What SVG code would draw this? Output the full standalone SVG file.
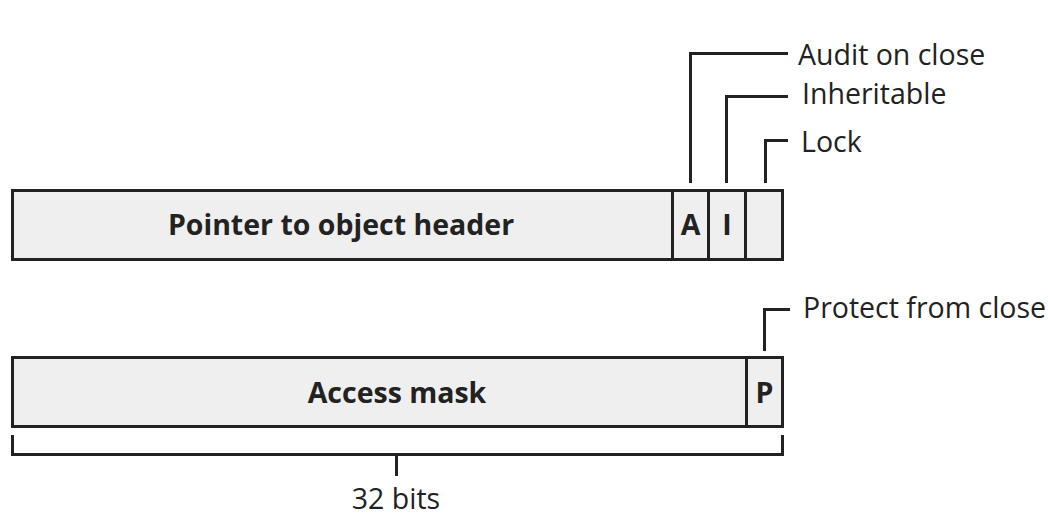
<svg xmlns="http://www.w3.org/2000/svg" width="1048" height="517" viewBox="0 0 1048 517">
<style>
.box{fill:#efefef;stroke:#222;stroke-width:3}
.ln{fill:none;stroke:#222;stroke-width:3}
.lbl{font-family:"Open Sans","Noto Sans",sans-serif;font-size:28.5px;fill:#222}
.b{font-family:"Open Sans","Noto Sans",sans-serif;font-size:28.5px;font-weight:bold;fill:#222}
</style>
<rect width="1048" height="517" fill="#fff"/>
<g id="pointer">
<rect class="box" x="12.5" y="190.5" width="660" height="69"/>
<text class="b" x="341" y="235" text-anchor="middle">Pointer to object header</text>
</g>
<g id="bitA">
<rect class="box" x="672.5" y="190.5" width="36" height="69"/>
<text class="b" x="690.5" y="235" text-anchor="middle">A</text>
</g>
<g id="bitI">
<rect class="box" x="708.5" y="190.5" width="37" height="69"/>
<text class="b" x="727" y="235" text-anchor="middle">I</text>
</g>
<g id="bitLock">
<rect class="box" x="745.5" y="190.5" width="37" height="69"/>
</g>
<g id="access">
<rect class="box" x="12.5" y="357.5" width="734" height="69"/>
<text class="b" x="397" y="403" text-anchor="middle">Access mask</text>
</g>
<g id="bitP">
<rect class="box" x="746.5" y="357.5" width="36" height="69"/>
<text class="b" x="764.5" y="403" text-anchor="middle">P</text>
</g>
<g id="connectors">
<polyline class="ln" points="690.5,183 690.5,53.5 788,53.5"/>
<polyline class="ln" points="726.5,183 726.5,96.5 788,96.5"/>
<polyline class="ln" points="765.5,183 765.5,140.5 788,140.5"/>
<polyline class="ln" points="764.5,351 764.5,309.5 790,309.5"/>
<polyline class="ln" points="12.5,435 12.5,454.5 782.5,454.5 782.5,435"/>
<line class="ln" x1="396.5" y1="454" x2="396.5" y2="476"/>
</g>
<g id="labels">
<text class="lbl" x="798" y="65">Audit on close</text>
<text class="lbl" x="802" y="104">Inheritable</text>
<text class="lbl" x="801" y="152">Lock</text>
<text class="lbl" x="803" y="318">Protect from close</text>
<text class="lbl" x="396" y="509" text-anchor="middle">32 bits</text>
</g>
</svg>
